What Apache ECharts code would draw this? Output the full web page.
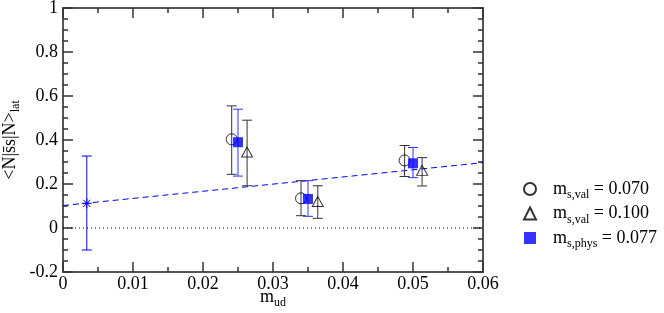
<!DOCTYPE html>
<html><head><meta charset="utf-8">
<script src="https://cdn.jsdelivr.net/npm/echarts@6/dist/echarts.min.js"></script>
<style>html,body{margin:0;padding:0;background:#fff}#c{width:664px;height:313px}</style>
</head><body><div id="c"></div>
<script>
// data
var circX = [0.0241, 0.0340, 0.0488];
var circY = [0.403, 0.135, 0.307];
var circHi = [0.555, 0.215, 0.375];
var circLo = [0.244, 0.056, 0.234];

var triX = [0.0263, 0.0364, 0.0513];
var triY = [0.345, 0.120, 0.262];
var triHi = [0.490, 0.192, 0.320];
var triLo = [0.192, 0.044, 0.191];

var sqX = [0.0250, 0.0350, 0.0500];
var sqY = [0.390, 0.132, 0.294];
var sqHi = [0.540, 0.215, 0.366];
var sqLo = [0.236, 0.053, 0.229];

var starX = [0.0034];
var starY = [0.112];
var starHi = [0.327];
var starLo = [-0.100];

var fitX = [0, 0.06];
var fitY = [0.102, 0.297];
var zeroX = [0, 0.06];
var zeroY = [0, 0];

var xTicks = [0, 0.01, 0.02, 0.03, 0.04, 0.05, 0.06];
var yTicks = [-0.2, 0, 0.2, 0.4, 0.6, 0.8, 1];

var legendNames = ['circ', 'tri', 'sq'];
var legendLabels = {
  circ: '{m|m}{s|s,val}{t| = 0.070}',
  tri: '{m|m}{s|s,val}{t| = 0.100}',
  sq: '{m|m}{s|s,phys}{t| = 0.077}'
};

function zip(xs, ys) { return xs.map(function (x, i) { return [x, ys[i]]; }); }
function errData(xs, lo, hi) { return xs.map(function (x, i) { return [x, lo[i], hi[i]]; }); }

var FONT = 'Liberation Serif';
var FS = 18, SFS = 12, SUBPAD = 12, LH = 26;

function errSeries(xs, lo, hi, color) {
  return {
    type: 'custom',
    xAxisIndex: 0, yAxisIndex: 0,
    z: 2,
    silent: true,
    data: errData(xs, lo, hi),
    renderItem: function (params, api) {
      var x = api.value(0);
      var p1 = api.coord([x, api.value(1)]);
      var p2 = api.coord([x, api.value(2)]);
      var w = 5;
      var st = { stroke: color, lineWidth: 1 };
      var ch = [
        { type: 'line', shape: { x1: p1[0], y1: p1[1], x2: p2[0], y2: p2[1] }, style: st },
        { type: 'line', shape: { x1: p1[0] - w, y1: p1[1], x2: p1[0] + w, y2: p1[1] }, style: st },
        { type: 'line', shape: { x1: p2[0] - w, y1: p2[1], x2: p2[0] + w, y2: p2[1] }, style: st }
      ];
      return { type: 'group', children: ch };
    }
  };
}

function starSeries() {
  return {
    type: 'custom',
    z: 4, silent: true,
    data: zip(starX, starY),
    renderItem: function (params, api) {
      var c = api.coord([api.value(0), api.value(1)]);
      var r = 5, d = 3.6;
      var st = { stroke: '#0000ff', lineWidth: 1 };
      return { type: 'group', children: [
        { type: 'line', shape: { x1: c[0] - r, y1: c[1], x2: c[0] + r, y2: c[1] }, style: st },
        { type: 'line', shape: { x1: c[0], y1: c[1] - r, x2: c[0], y2: c[1] + r }, style: st },
        { type: 'line', shape: { x1: c[0] - d, y1: c[1] - d, x2: c[0] + d, y2: c[1] + d }, style: st },
        { type: 'line', shape: { x1: c[0] - d, y1: c[1] + d, x2: c[0] + d, y2: c[1] - d }, style: st }
      ]};
    }
  };
}

var axisCommon = {
  axisLine: { show: true, onZero: false, lineStyle: { color: '#555', width: 2 } },
  axisTick: { show: true, inside: true, length: 10, lineStyle: { color: '#333', width: 1.5 } },
  minorTick: { show: true, splitNumber: 2, length: 5, lineStyle: { color: '#333', width: 1.5 } },
  splitLine: { show: false }
};
var yMinor = { minorTick: { show: true, splitNumber: 4, length: 5, lineStyle: { color: '#333', width: 1.5 } } };

function richSet(lh) {
  return {
    m: { fontSize: FS, fontFamily: FONT, color: '#000', lineHeight: lh },
    s: { fontSize: SFS, fontFamily: FONT, color: '#000', lineHeight: lh, padding: [SUBPAD, 0, 0, 0] },
    t: { fontSize: FS, fontFamily: FONT, color: '#000', lineHeight: lh }
  };
}

var chart = echarts.init(document.getElementById('c'), null, { renderer: 'canvas' });
chart.setOption({
  animation: false,
  backgroundColor: '#fff',
  textStyle: { fontFamily: FONT },
  grid: { left: 63, top: 8, right: 181, bottom: 41, containLabel: false, outerBoundsMode: 'none' },
  legend: {
    data: legendNames,
    orient: 'vertical',
    left: 518, top: 172,
    itemWidth: 12, itemHeight: 12, itemGap: 0.5,
    formatter: function (n) { return legendLabels[n]; },
    textStyle: {
      fontFamily: FONT, color: '#000', padding: [0, 0, 0, 12],
      rich: richSet(LH)
    }
  },
  xAxis: [
    Object.assign({
      type: 'value', min: 0, max: 0.06, interval: 0.01, position: 'bottom',
      name: '{m|m}{s|ud}', nameLocation: 'middle', nameGap: 12, nameMoveOverlap: false,
      nameTextStyle: { rich: richSet(LH) },
      axisLabel: { fontSize: FS, fontFamily: FONT, color: '#000', margin: 3,
        formatter: function (v) { return String(+v.toFixed(2)); } }
    }, axisCommon),
    Object.assign({
      type: 'value', min: 0, max: 0.06, interval: 0.01, position: 'top',
      axisLabel: { show: false }
    }, axisCommon)
  ],
  yAxis: [
    Object.assign({
      type: 'value', min: -0.2, max: 1, interval: 0.2, position: 'left',
      name: '{m|<N|s\u0304s|N>}{s|lat}', nameLocation: 'middle', nameGap: 40, nameRotate: 90, nameMoveOverlap: false,
      nameTextStyle: { rich: richSet(LH) },
      axisLabel: { fontSize: FS, fontFamily: FONT, color: '#000', margin: 5,
        formatter: function (v) { return String(+v.toFixed(1)); } }
    }, axisCommon, yMinor),
    Object.assign({
      type: 'value', min: -0.2, max: 1, interval: 0.2, position: 'right',
      axisLabel: { show: false }
    }, axisCommon, yMinor)
  ],
  series: [
    { type: 'line', data: zip(zeroX, zeroY), symbol: 'none', silent: true, z: 1,
      lineStyle: { color: '#000', width: 1, type: [1, 3] } },
    { type: 'line', data: zip(fitX, fitY), symbol: 'none', silent: true, z: 1,
      lineStyle: { color: '#0000ff', width: 1, type: [6, 4] } },
    errSeries(starX, starLo, starHi, '#0000ff'),
    starSeries(),
    errSeries(circX, circLo, circHi, '#333'),
    { name: 'circ', type: 'scatter', data: zip(circX, circY), symbol: 'circle', symbolSize: 11, z: 3,
      itemStyle: { color: 'rgba(255,255,255,0)', borderColor: '#000', borderWidth: 1 } },
    errSeries(triX, triLo, triHi, '#333'),
    { name: 'tri', type: 'scatter', data: zip(triX, triY), symbol: 'triangle', symbolSize: [11, 10], z: 3,
      itemStyle: { color: 'rgba(255,255,255,0)', borderColor: '#000', borderWidth: 1 } },
    errSeries(sqX, sqLo, sqHi, '#3333ff'),
    { name: 'sq', type: 'scatter', data: zip(sqX, sqY), symbol: 'rect', symbolSize: 10, z: 3,
      itemStyle: { color: '#0000ff', borderWidth: 0 } }
  ]
});
</script></body></html>
